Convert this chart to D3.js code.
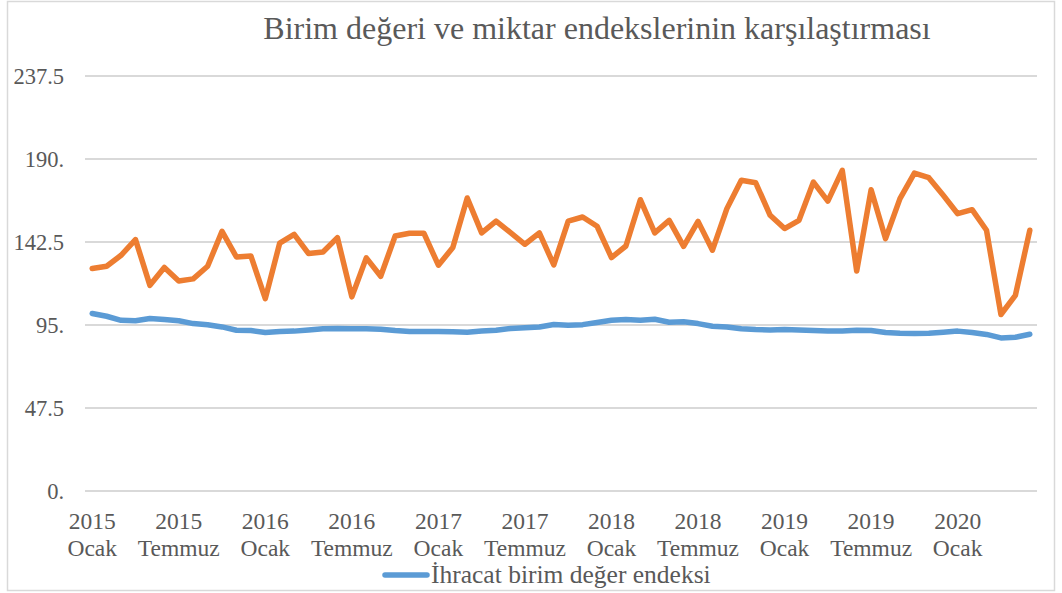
<!DOCTYPE html>
<html>
<head>
<meta charset="utf-8">
<script src="https://cdn.jsdelivr.net/npm/d3@7/dist/d3.min.js"></script>
<style>
  html, body { margin: 0; padding: 0; background: #fff; }
  svg { display: block; }
</style>
</head>
<body>
<svg id="chart" width="1062" height="593"></svg>
<script>
const years = ["2015", "2016", "2017", "2018", "2019", "2020"];
const months = ["Ocak", "Şubat", "Mart", "Nisan", "Mayıs", "Haziran", "Temmuz", "Ağustos", "Eylül", "Ekim", "Kasım", "Aralık"];
const categories = [];
years.forEach(y => months.forEach(m => categories.push(y + " " + m)));
categories.length = 66; // 2015 Ocak .. 2020 Haziran

const unitValueIndex = [
  101.6, 100.0, 97.7, 97.4, 98.7, 98.1, 97.4, 95.8, 95.1, 93.9, 92.0, 91.8,
  90.7, 91.3, 91.5, 92.2, 92.8, 93.0, 92.8, 92.8, 92.6, 91.8, 91.3, 91.3,
  91.3, 91.1, 90.9, 91.5, 92.0, 93.0, 93.4, 93.9, 95.3, 94.8, 95.2, 96.4,
  97.7, 98.1, 97.7, 98.3, 96.6, 96.8, 95.8, 94.3, 93.9, 92.8, 92.4, 92.2,
  92.4, 92.2, 91.8, 91.5, 91.5, 92.0, 91.8, 90.7, 90.3, 90.1, 90.3, 90.9,
  91.5, 90.7, 89.6, 87.6, 88.0, 89.7
];
const quantityIndex = [
  127.3, 128.6, 134.9, 143.9, 117.7, 127.9, 120.2, 121.4, 128.6, 148.6, 133.9, 134.5,
  110.1, 141.9, 146.9, 135.9, 136.8, 145.0, 111.1, 133.4, 122.9, 145.9, 147.5, 147.5,
  129.2, 139.3, 167.7, 147.7, 154.5, 147.9, 141.2, 147.7, 129.4, 154.4, 156.8, 151.5,
  133.6, 140.2, 166.7, 147.7, 154.9, 140.0, 154.3, 137.8, 161.6, 177.8, 176.4, 157.8,
  150.2, 154.9, 176.8, 165.9, 183.5, 125.9, 172.4, 144.4, 167.3, 181.9, 179.3, 169.2,
  158.7, 161.0, 149.2, 101.0, 112.0, 149.2
];
const yTicks = [0, 47.5, 95, 142.5, 190, 237.5];
const title = "Birim değeri ve miktar endekslerinin karşılaştırması";
const legendLabel = "İhracat birim değer endeksi";

const svg = d3.select("#chart");
const plot = { left: 85, right: 1037, top: 76, bottom: 491 };
const serif = "'Liberation Serif', 'Times New Roman', serif";
const textColor = "#595959";
const gridColor = "#d9d9d9";

// outer frame
svg.append("rect")
  .attr("x", 7.5).attr("y", 1.5)
  .attr("width", 1047).attr("height", 589)
  .attr("fill", "#fff").attr("stroke", gridColor).attr("stroke-width", 1.5);

const x = d3.scaleBand().domain(categories).range([plot.left, plot.right]).padding(0);
const y = d3.scaleLinear().domain([0, 237.5]).range([plot.bottom, plot.top]);
const cx = d => x(d) + x.bandwidth() / 2;

// title
svg.append("text")
  .attr("x", 597).attr("y", 39)
  .attr("text-anchor", "middle")
  .attr("font-family", serif).attr("font-size", 32)
  .attr("fill", textColor)
  .text(title);

// gridlines
svg.append("g").selectAll("line").data(yTicks).join("line")
  .attr("x1", plot.left).attr("x2", plot.right)
  .attr("y1", d => y(d)).attr("y2", d => y(d))
  .attr("stroke", gridColor).attr("stroke-width", 2);

// y axis
const yAxis = d3.axisLeft(y).tickValues(yTicks)
  .tickSize(0).tickPadding(0)
  .tickFormat(d => Number.isInteger(d) ? d + "." : String(d));
const gy = svg.append("g").attr("transform", "translate(64,0)").call(yAxis);
gy.select(".domain").remove();
gy.selectAll("text")
  .attr("font-family", serif).attr("font-size", 22.5)
  .attr("fill", textColor).attr("dy", "0.33em");

// x axis
const xTickVals = categories.filter((d, i) => i % 6 === 0);
const xAxis = d3.axisBottom(x).tickValues(xTickVals).tickSize(0).tickPadding(0).tickFormat("");
const gx = svg.append("g").attr("transform", `translate(0,${plot.bottom})`).call(xAxis);
gx.select(".domain").remove();
gx.selectAll(".tick").each(function(d) {
  const parts = d.split(" ");
  const t = d3.select(this).append("text")
    .attr("text-anchor", "middle")
    .attr("font-family", serif).attr("font-size", 23.5)
    .attr("fill", textColor);
  t.append("tspan").attr("x", 0).attr("y", 38).text(parts[0]);
  t.append("tspan").attr("x", 0).attr("y", 65).text(parts[1]);
});

// lines
const line = d3.line().x((d, i) => cx(categories[i])).y(d => y(d));
svg.append("path").datum(unitValueIndex)
  .attr("d", line).attr("fill", "none")
  .attr("stroke", "#5B9BD5").attr("stroke-width", 5.5)
  .attr("stroke-linejoin", "round").attr("stroke-linecap", "round");
svg.append("path").datum(quantityIndex)
  .attr("d", line).attr("fill", "none")
  .attr("stroke", "#ED7D31").attr("stroke-width", 5.5)
  .attr("stroke-linejoin", "round").attr("stroke-linecap", "round");

// legend
const lg = svg.append("g").attr("transform", "translate(0,575)");
lg.append("line").attr("x1", 385).attr("x2", 427).attr("y1", 0).attr("y2", 0)
  .attr("stroke", "#5B9BD5").attr("stroke-width", 5.5).attr("stroke-linecap", "round");
lg.append("text").attr("x", 431).attr("y", 0).attr("dy", "0.33em")
  .attr("font-family", serif).attr("font-size", 25.5).attr("fill", textColor)
  .text(legendLabel);
</script>
</body>
</html>
